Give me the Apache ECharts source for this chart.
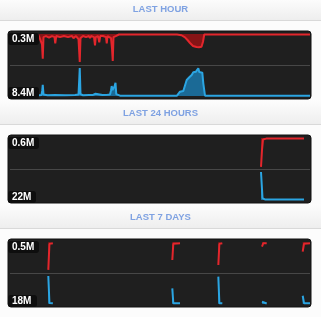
<!DOCTYPE html>
<html><head><meta charset="utf-8">
<script src="https://cdn.jsdelivr.net/npm/echarts@6/dist/echarts.min.js"></script>
<style>html,body{margin:0;padding:0;background:#fcfcfc}#c{width:321px;height:317px}</style>
</head><body><div id="c"></div><script>
// ---- data ----
const panelTitles = ['LAST HOUR', 'LAST 24 HOURS', 'LAST 7 DAYS'];
const redLabels = ['0.3M', '0.6M', '0.5M'];
const blueLabels = ['8.4M', '22M', '18M'];
const redMax = [0.3, 0.6, 0.5];
const blueMax = [8.4, 22, 18];
const xMax = [60, 24, 7]; // minutes, hours, days

// last hour: [minute, value in M]
const redHour = [[0,0.01],[0.2,0.09],[0.4,0.01],
 [5.8,0.02],[6.2,0.03],[6.4,0.1],[6.55,0.24],[6.7,0.03],[7.2,0.02],[7.8,0.035],[8.4,0.02],[8.9,0.03],[9.05,0.09],[9.25,0.02],
 [10.0,0.03],[10.8,0.02],[11.6,0.03],[12.4,0.02],[12.7,0.04],[12.9,0.03],[13.2,0.02],[13.7,0.05],[13.85,0.18],[13.95,0.27],[14.1,0.04],
 [14.6,0.02],[15.2,0.03],[15.8,0.02],[16.0,0.04],[16.2,0.02],[16.8,0.03],[17.0,0.11],[17.15,0.03],[17.6,0.02],[17.85,0.08],[18.05,0.02],
 [18.35,0.03],[18.6,0.02],[19.2,0.03],[19.35,0.09],[19.5,0.02],[20.2,0.04],[20.4,0.14],[20.55,0.26],[20.7,0.03],[21.0,0.03],[21.15,0.02],[21.8,0.005],
 [33.4,0.005],[33.8,0.01],[34.3,0.012],[34.6,0.025],[35.0,0.032],[35.5,0.058],[36.0,0.087],[36.6,0.116],[37.3,0.126],[37.55,0.128],
 [37.66,0.145],[37.8,0.128],[38.3,0.123],[38.6,0.075],[38.85,0.005],[60,0.005]];
const blueHour = [[0,0.1],[0.2,1.2],[0.4,0.1],
 [5.8,0.2],[6.3,0.3],[6.45,1.5],[6.55,3.0],[6.7,0.4],[7.5,0.2],[9,0.25],[11,0.2],[13.0,0.25],[13.7,0.4],[13.85,4.5],[13.95,7.6],[14.1,0.5],
 [14.6,0.2],[15.8,0.3],[16.5,0.25],[16.9,0.5],[17.1,0.6],[17.4,0.3],[18.5,0.3],[19.5,0.35],[20.0,0.4],[20.2,1.5],[20.34,2.7],[20.5,1.6],
 [20.7,1.4],[20.9,2.6],[21.1,3.6],[21.25,0.5],[21.6,0.2],[22,0.1],
 [33.4,0.1],[34.0,1.17],[34.66,1.36],[35.0,0.9],[35.34,4.34],[35.86,5.07],[36.34,5.69],[36.66,6.42],[37.2,6.59],[37.5,6.7],
 [37.66,7.5],[37.85,6.5],[38.0,6.42],[38.46,6.31],[38.66,3.44],[39.0,0.1],[60,0.1]];

// last 24 hours: [hour, value in M]
const red24 = [[20.08,0.56],[20.16,0.23],[20.24,0.03],[20.5,0.012],[23.52,0.012]];
const blue24 = [[20.08,19.9],[20.2,1.4],[20.4,0.35],[23.52,0.35]];

// last 7 days: [day, value in M]
const red7 = [[0.894,0.45],[0.92,0.03],[1.0,0.02],[1.01,null],
 [3.787,0.29],[3.81,0.03],[3.967,0.02],[3.98,null],
 [4.861,0.37],[4.885,0.03],[4.954,0.02],[4.96,null],
 [5.88,0.076],[5.91,0.02],[5.99,0.02],[6.0,null],
 [6.83,0.156],[6.86,0.03],[7.0,0.02]];
const blue7 = [[0.894,16.3],[0.92,0.6],[1.0,0.4],[1.01,null],
 [3.787,9.1],[3.81,0.5],[3.967,0.4],[3.98,null],
 [4.861,15.9],[4.885,0.5],[4.954,0.4],[4.96,null],
 [5.88,1.3],[5.92,0.3],[5.99,0.3],[6.0,null],
 [6.83,4.8],[6.86,0.5],[7.0,0.4]];

const redData = [redHour, red24, red7];
const blueData = [blueHour, blue24, blue7];

// ---- layout ----
const panelTop = [31, 135, 239];
const bandLine = [20, 124, 228];
const bandTop = [-2, 100, 204];
const topBoxW = [31, 31, 31];
const botBoxW = [31, 28, 29];
const FONT = '"Liberation Sans", Arial, sans-serif';

const grids = [], xAxes = [], yAxes = [], series = [], elements = [];
elements.push({type:'rect', shape:{x:0,y:0,width:321,height:317}, style:{fill:'#fcfcfc'}, z:-10, silent:true});
for (let p = 0; p < 3; p++) {
  const T = panelTop[p];
  // title band
  elements.push({type:'rect', shape:{x:0,y:bandTop[p],width:321,height:bandLine[p]-bandTop[p]},
    style:{fill:new echarts.graphic.LinearGradient(0,0,0,1,[{offset:0,color:'#fdfdfd'},{offset:1,color:'#eeeeee'}])}, z:-5, silent:true});
  elements.push({type:'rect', shape:{x:0,y:bandLine[p],width:321,height:1}, style:{fill:'#d9d9d9'}, z:-5, silent:true});
  elements.push({type:'text', style:{text:panelTitles[p], x:160.5, y:bandLine[p]-10.5, align:'center', verticalAlign:'middle',
    fill:'#7fa2e2', font:'bold 9.5px ' + FONT}, z:-4, silent:true});
  // panel
  elements.push({type:'rect', shape:{x:8,y:T,width:303,height:68,r:3}, style:{fill:'#1f1f1f', stroke:'#121212', lineWidth:1}, z:-3, silent:true});
  elements.push({type:'rect', shape:{x:10,y:T+34,width:300,height:1}, style:{fill:'#474747'}, z:-2, silent:true});
  // labels
  elements.push({type:'rect', shape:{x:8,y:T+2,width:topBoxW[p],height:12,r:3}, style:{fill:'#0e0e0e'}, z:20, silent:true});
  elements.push({type:'text', style:{text:redLabels[p], x:12, y:T+8.3, align:'left', verticalAlign:'middle', fill:'#ffffff', font:'bold 10px ' + FONT}, z:21, silent:true});
  elements.push({type:'rect', shape:{x:8,y:T+56,width:botBoxW[p],height:12,r:3}, style:{fill:'#0e0e0e'}, z:20, silent:true});
  elements.push({type:'text', style:{text:blueLabels[p], x:12, y:T+62.6, align:'left', verticalAlign:'middle', fill:'#ffffff', font:'bold 10px ' + FONT}, z:21, silent:true});

  grids.push({left:10, width:300, top:T+3, height:31});
  grids.push({left:10, width:300, top:T+34, height:31});
  xAxes.push({type:'value', gridIndex:2*p, min:0, max:xMax[p], show:false});
  xAxes.push({type:'value', gridIndex:2*p+1, min:0, max:xMax[p], show:false});
  yAxes.push({type:'value', gridIndex:2*p, min:0, max:redMax[p], inverse:true, show:false});
  yAxes.push({type:'value', gridIndex:2*p+1, min:0, max:blueMax[p], show:false});
  series.push({type:'line', xAxisIndex:2*p, yAxisIndex:2*p, data:redData[p], symbol:'none', clip:false, silent:true,
    connectNulls:false, lineStyle:{color:'#e3262c', width:2}, areaStyle:{color:'#861416', opacity:1}, z:5});
  series.push({type:'line', xAxisIndex:2*p+1, yAxisIndex:2*p+1, data:blueData[p], symbol:'none', clip:false, silent:true,
    connectNulls:false, lineStyle:{color:'#2ba5e2', width:2}, areaStyle:{color:'#1b6a96', opacity:1}, z:5});
}

const chart = echarts.init(document.getElementById('c'), null, {renderer:'canvas'});
chart.setOption({
  animation:false,
  backgroundColor:'#fcfcfc',
  grid:grids, xAxis:xAxes, yAxis:yAxes, series:series,
  graphic:{elements:elements}
});
</script></body></html>
